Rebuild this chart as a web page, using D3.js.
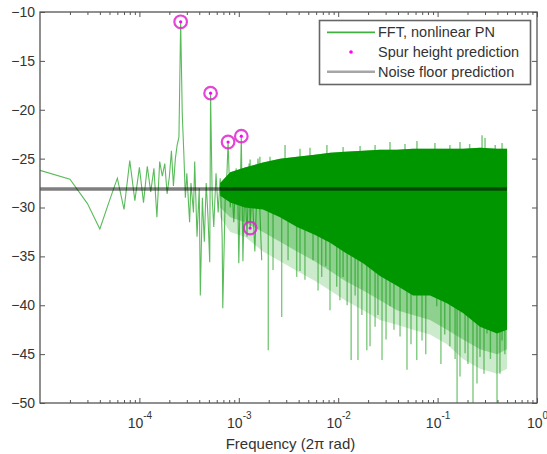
<!DOCTYPE html>
<html>
<head>
<meta charset="utf-8">
<script src="https://cdnjs.cloudflare.com/ajax/libs/d3/7.8.5/d3.min.js"></script>
<style>
  body { margin: 0; background: #fff; }
  svg { display: block; font-family: "Liberation Sans", Arial, sans-serif; }
</style>
</head>
<body>
<div id="chart"></div>
<script>
// resolved FFT bins at the low end (normalized frequency, dB)
var fftFreq = [1e-5, 2e-5, 3e-5, 4e-5, 5e-5, 6e-5, 7e-5, 8e-5, 9e-5, 1.0e-4,
  1.1e-4, 1.2e-4, 1.3e-4, 1.4e-4, 1.5e-4, 1.6e-4, 1.7e-4, 1.8e-4, 1.9e-4, 2.0e-4,
  2.1e-4, 2.2e-4, 2.3e-4, 2.4e-4, 2.5e-4, 2.6e-4, 2.7e-4, 2.8e-4, 2.9e-4, 3.0e-4,
  3.2e-4, 3.3e-4, 3.5e-4, 3.6e-4, 3.8e-4, 4.0e-4, 4.1e-4, 4.3e-4, 4.5e-4, 4.7e-4,
  4.9e-4, 5.1e-4, 5.2e-4, 5.4e-4, 5.6e-4, 5.9e-4, 6.2e-4, 6.5e-4, 6.8e-4, 6.9e-4,
  7.3e-4, 7.6e-4, 7.8e-4, 8.2e-4, 8.5e-4, 8.9e-4, 9.4e-4, 9.8e-4, 1.00e-3, 1.06e-3,
  1.10e-3, 1.15e-3, 1.21e-3, 1.27e-3, 1.30e-3, 1.36e-3, 1.45e-3, 1.56e-3, 1.70e-3]
var fftDb = [-26.2, -27.1, -29.6, -32.2, -29.3, -27.0, -30.2, -25.2, -29.3, -25.9,
  -29.5, -25.8, -28.4, -26.0, -31.0, -25.3, -26.8, -25.5, -28.6, -26.9,
  -24.2, -27.8, -25.0, -23.6, -22.8, -11.0, -20.5, -24.5, -29.0, -26.5,
  -31.5, -27.5, -30.5, -25.3, -33.0, -28.0, -39.0, -29.0, -33.5, -27.5,
  -31.0, -35.6, -18.3, -29.0, -32.0, -26.5, -30.5, -27.0, -33.0, -40.3,
  -29.0, -26.5, -23.3, -30.0, -27.5, -31.5, -26.0, -29.5, -35.7, -22.7,
  -35.5, -27.0, -33.0, -25.5, -32.1, -28.0, -34.5, -25.0, -35.4]

// dense part: solid band, half-dense zone and faint spread below it
var bandFreq = [6.5e-4, 8.2e-4, 1.15e-3, 1.75e-3, 2.6e-3, 3.85e-3, 5.8e-3, 8.3e-3, 1.17e-2, 1.78e-2,
  2.63e-2, 3.9e-2, 5.66e-2, 8.4e-2, 0.124, 0.18, 0.267, 0.396, 0.5]
var bandTop = [-27.5, -26.4, -25.9, -25.4, -25.0, -24.8, -24.6, -24.4, -24.3, -24.2,
  -24.1, -24.1, -24.0, -24.0, -24.0, -24.0, -23.9, -24.0, -24.0]
var bandBottom = [-28.8, -29.5, -30.0, -30.2, -31.0, -32.0, -32.8, -33.6, -34.6, -35.7,
  -37.0, -38.0, -39.0, -39.0, -39.8, -40.8, -42.2, -42.9, -42.5]
var bandMid = [-30.0, -31.0, -31.5, -32.5, -33.5, -34.5, -35.5, -36.5, -37.5, -38.5,
  -39.5, -40.5, -41.0, -41.5, -42.5, -43.5, -44.5, -45.0, -44.5]
var bandSpread = [-31.0, -32.5, -33.0, -34.5, -35.5, -36.5, -37.5, -38.5, -39.5, -40.5,
  -41.5, -42.0, -42.5, -43.0, -44.0, -45.5, -46.5, -47.0, -46.5]

// single deep dips and tall bins that stick out of the band
var dropFreq = [1.98e-3, 2.21e-3, 2.70e-3, 3.13e-3, 3.82e-3, 4.13e-3, 4.63e-3, 5.58e-3, 6.27e-3, 6.82e-3,
  7.5e-3, 8.27e-3, 9.66e-3, 1.04e-2, 1.12e-2, 1.23e-2, 1.35e-2, 1.48e-2, 1.58e-2, 1.73e-2,
  1.94e-2, 2.09e-2, 2.35e-2, 2.51e-2, 2.76e-2, 3.03e-2, 3.32e-2, 3.64e-2, 4.19e-2, 4.92e-2,
  5.4e-2, 6.17e-2, 6.97e-2, 7.6e-2, 9.8e-2, 0.108, 0.118, 0.133, 0.150, 0.157,
  0.168, 0.189, 0.202, 0.227, 0.249, 0.267, 0.293, 0.314, 0.34, 0.396,
  0.424, 0.445, 0.475]
var dropDb = [-44.6, -36.4, -41.2, -35.4, -37.1, -36.5, -37.4, -35.4, -38.5, -37.1,
  -36.0, -40.5, -38.1, -39.5, -37.1, -40.0, -45.6, -39.0, -45.6, -41.0,
  -44.6, -44.2, -42.2, -41.0, -45.6, -43.5, -40.1, -42.5, -43.2, -46.6,
  -44.0, -45.6, -43.6, -45.0, -40.1, -46.0, -43.0, -44.2, -45.5, -50.0,
  -47.3, -44.9, -46.0, -50.0, -48.0, -45.3, -47.0, -42.9, -45.5, -50.0,
  -47.0, -43.6, -45.0]
var riseFreq = [1.3e-3, 1.63e-3, 2.06e-3, 2.92e-3, 4.13e-3, 5.2e-3, 7.7e-3, 1.12e-2, 1.66e-2, 2.35e-2,
  3.32e-2, 4.7e-2, 6.2e-2, 9.4e-2, 0.133, 0.168, 0.21, 0.28, 0.30, 0.38, 0.445]
var riseDb = [-25.1, -24.8, -24.8, -23.6, -24.0, -23.9, -23.6, -23.8, -23.7, -23.6,
  -23.3, -23.5, -23.2, -23.4, -23.6, -23.3, -23.5, -22.6, -22.9, -23.6, -23.4]

var spurFreq = [2.6e-4, 5.2e-4, 7.8e-4, 1.06e-3, 1.3e-3]
var spurDb = [-11.0, -18.3, -23.3, -22.7, -32.1]

var noiseFreq = [1e-5, 0.5]
var noiseDb = -28.1

var xTicks = [1e-4, 1e-3, 1e-2, 1e-1, 1]
var yTicks = [-10, -15, -20, -25, -30, -35, -40, -45, -50]
var legendLabels = ['FFT, nonlinear PN', 'Spur height prediction', 'Noise floor prediction']

var w = 547, h = 454
var m = {l: 40, r: 537, t: 12, b: 403}
var green = '#009600', pink = '#e024d0'

var x = d3.scaleLog().domain([1e-5, 1]).range([m.l, m.r])
var y = d3.scaleLinear().domain([-50, -10]).range([m.b, m.t])

var svg = d3.select('#chart').append('svg')
  .attr('width', w)
  .attr('height', h)

svg.append('clipPath').attr('id', 'clip')
  .append('rect')
  .attr('x', m.l).attr('y', m.t)
  .attr('width', m.r - m.l).attr('height', m.b - m.t)

var plot = svg.append('g').attr('clip-path', 'url(#clip)')

function bandArea(lower){
  return d3.area()
    .x(function(d, i){ return x(bandFreq[i]) })
    .y0(function(d, i){ return y(lower[i]) })
    .y1(function(d, i){ return y(bandTop[i]) })
}

// faint spread of overlapping thin dips, then the half dense zone
plot.append('path').datum(bandFreq)
  .attr('d', bandArea(bandSpread))
  .attr('fill', green)
  .attr('fill-opacity', 0.2)
plot.append('path').datum(bandFreq)
  .attr('d', bandArea(bandMid))
  .attr('fill', green)
  .attr('fill-opacity', 0.3)

plot.selectAll('.drop')
  .data(dropFreq)
  .enter()
  .append('line')
  .attr('class', 'drop')
  .attr('x1', function(d){ return x(d) })
  .attr('x2', function(d){ return x(d) })
  .attr('y1', y(-29))
  .attr('y2', function(d, i){ return y(dropDb[i]) })
  .attr('stroke', green)
  .attr('stroke-opacity', 0.5)
  .attr('stroke-width', 1.4)

plot.selectAll('.rise')
  .data(riseFreq)
  .enter()
  .append('line')
  .attr('class', 'rise')
  .attr('x1', function(d){ return x(d) })
  .attr('x2', function(d){ return x(d) })
  .attr('y1', y(-27))
  .attr('y2', function(d, i){ return y(riseDb[i]) })
  .attr('stroke', green)
  .attr('stroke-opacity', 0.5)
  .attr('stroke-width', 1.5)

// solid band
plot.append('path').datum(bandFreq)
  .attr('d', bandArea(bandBottom))
  .attr('fill', green)

var line = d3.line()
  .x(function(d, i){ return x(fftFreq[i]) })
  .y(function(d){ return y(d) })
plot.append('path').datum(fftDb)
  .attr('d', line)
  .attr('fill', 'none')
  .attr('stroke', green)
  .attr('stroke-opacity', 0.65)
  .attr('stroke-width', 1.1)

// noise floor
plot.append('line')
  .attr('x1', x(noiseFreq[0])).attr('x2', x(noiseFreq[1]))
  .attr('y1', y(noiseDb)).attr('y2', y(noiseDb))
  .attr('stroke', '#000')
  .attr('stroke-opacity', 0.5)
  .attr('stroke-width', 3.5)

// spur predictions
var spurs = svg.selectAll('.spur')
  .data(spurFreq)
  .enter()
  .append('g')
  .attr('class', 'spur')
  .attr('transform', function(d, i){ return 'translate(' + x(d) + ',' + y(spurDb[i]) + ')' })
spurs.append('circle')
  .attr('r', 6.3)
  .attr('fill', 'none')
  .attr('stroke', pink)
  .attr('stroke-opacity', 0.85)
  .attr('stroke-width', 2.2)
spurs.append('circle')
  .attr('r', 1.6)
  .attr('fill', '#ff00ff')

// axes, ticks pointing inward like matlab
function strip(g){ g.select('.domain').remove() }

svg.append('g')
  .attr('transform', 'translate(' + m.l + ',0)')
  .call(d3.axisLeft(y).tickValues(yTicks).tickSize(-5).tickPadding(5).tickFormat(d3.format('d')))
  .call(strip)
  .call(function(g){
    g.selectAll('text').attr('font-size', 14).attr('font-family', null).attr('fill', '#333')
  })
svg.append('g')
  .attr('transform', 'translate(' + m.r + ',0)')
  .call(d3.axisRight(y).tickValues(yTicks).tickSize(-5).tickFormat(''))
  .call(strip)

var minor = x.ticks().filter(function(t){
  var e = Math.log10(t)
  return Math.abs(e - Math.round(e)) > 1e-6
})

svg.append('g')
  .attr('transform', 'translate(0,' + m.b + ')')
  .call(d3.axisBottom(x).tickValues(xTicks).tickSize(-5).tickPadding(5))
  .call(strip)
  .call(function(g){
    g.selectAll('text')
      .attr('font-family', null)
      .attr('font-size', 14)
      .attr('fill', '#333')
      .attr('y', 25)
      .attr('dy', null)
      .each(function(d){
        var t = d3.select(this)
        t.text(null)
        t.append('tspan').text('10')
        t.append('tspan')
          .attr('font-size', 10)
          .attr('dy', -9)
          .text(Math.round(Math.log10(d)))
      })
  })
svg.append('g')
  .attr('transform', 'translate(0,' + m.t + ')')
  .call(d3.axisTop(x).tickValues(xTicks).tickSize(-5).tickFormat(''))
  .call(strip)
svg.append('g')
  .attr('transform', 'translate(0,' + m.b + ')')
  .call(d3.axisBottom(x).tickValues(minor).tickSize(-3).tickFormat(''))
  .call(strip)
svg.append('g')
  .attr('transform', 'translate(0,' + m.t + ')')
  .call(d3.axisTop(x).tickValues(minor).tickSize(-3).tickFormat(''))
  .call(strip)

svg.selectAll('.tick line').attr('stroke', '#555')

svg.append('rect')
  .attr('x', m.l).attr('y', m.t)
  .attr('width', m.r - m.l).attr('height', m.b - m.t)
  .attr('fill', 'none')
  .attr('stroke', '#555')
  .attr('stroke-width', 1.3)

svg.append('text')
  .attr('x', (m.l + m.r) / 2 + 2)
  .attr('y', 449)
  .attr('text-anchor', 'middle')
  .attr('font-size', 15)
  .attr('fill', '#333')
  .text('Frequency (2\u03c0 rad)')

// legend
var lg = svg.append('g')
lg.append('rect')
  .attr('x', 319.5).attr('y', 20.5)
  .attr('width', 211).attr('height', 64)
  .attr('fill', '#fff')
  .attr('stroke', '#666')
  .attr('stroke-width', 1.6)
var rows = lg.selectAll('.row')
  .data(legendLabels)
  .enter()
  .append('g')
  .attr('class', 'row')
  .attr('transform', function(d, i){ return 'translate(0,' + (32.3 + i * 19.7) + ')' })
rows.append('text')
  .attr('x', 378)
  .attr('dy', '0.35em')
  .attr('font-size', 14.5)
  .attr('fill', '#333')
  .text(function(d){ return d })
rows.filter(function(d, i){ return i == 0 })
  .append('line')
  .attr('x1', 327).attr('x2', 375)
  .attr('stroke', green).attr('stroke-opacity', 0.75).attr('stroke-width', 1.8)
rows.filter(function(d, i){ return i == 1 })
  .append('circle')
  .attr('cx', 351).attr('r', 1.8)
  .attr('fill', '#ff00ff')
rows.filter(function(d, i){ return i == 2 })
  .append('line')
  .attr('x1', 327).attr('x2', 375)
  .attr('stroke', '#000').attr('stroke-opacity', 0.35).attr('stroke-width', 2.5)
</script>
</body>
</html>
